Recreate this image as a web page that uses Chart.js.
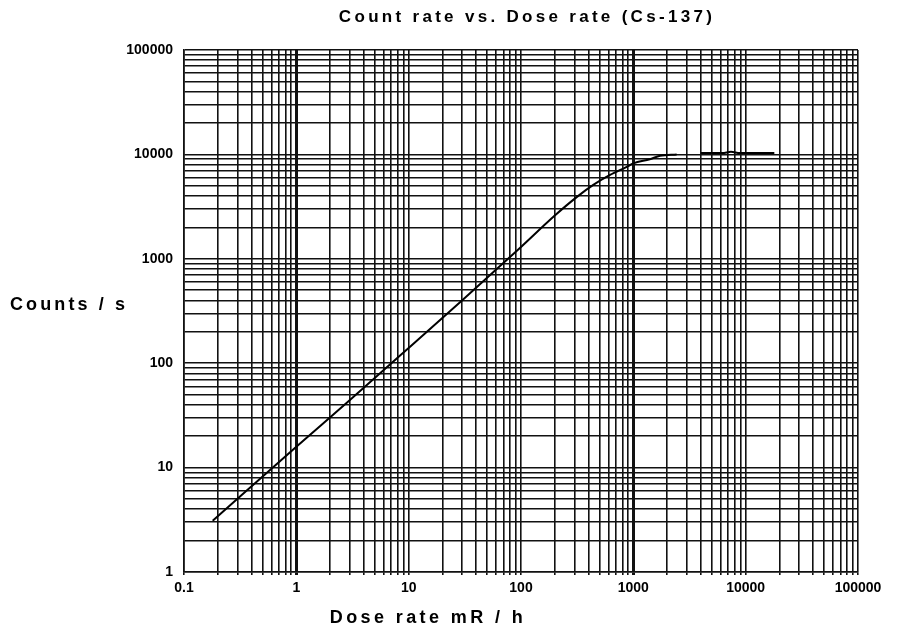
<!DOCTYPE html>
<html>
<head>
<meta charset="utf-8">
<script src="https://cdn.jsdelivr.net/npm/chart.js@4.4.1/dist/chart.umd.min.js"></script>
<style>
  html, body { margin: 0; padding: 0; background: #fff; }
  #wrap { width: 901px; height: 629px; }
</style>
</head>
<body>
<div id="wrap"><canvas id="chart"></canvas></div>
<script>
// titles
const TITLE = "Count rate vs. Dose rate (Cs-137)";
const X_TITLE = "Dose rate mR / h";
const Y_TITLE = "Counts / s";

// decade labels of the log paper
const xTickLabels = ["0.1", "1", "10", "100", "1000", "10000", "100000"];
const yTickLabels = ["1", "10", "100", "1000", "10000", "100000"];
const thickX = [1, 1000];

// curve (null = gap in the drawn line)
const doseRate  = [0.18, 1,    3,    10,  30,  100,  200,  313,  440,  620,  873,  1000, 1400, 1730, 2430,  3000, 4000,  6200,  7400,  8900,  18000];
const countRate = [3.1,  15.8, 44.5, 140, 400, 1300, 2600, 3900, 5100, 6350, 7600, 8200, 9000, 9700, 10000, null, 10300, 10300, 10600, 10300, 10300];

const FONT = '"Liberation Sans", Arial, sans-serif';

function logTicks(labels) {
  const decades = labels.map(Number);
  const ticks = [];
  decades.forEach((d, i) => {
    if (i === decades.length - 1) {
      ticks.push({ value: d, major: true });
      return;
    }
    for (let m = 1; m < 10; m++) ticks.push({ value: d * m, major: m === 1 });
  });
  return ticks;
}

function labelFor(labels) {
  const decades = labels.map(Number);
  return (value) => {
    const i = decades.findIndex((d) => Math.abs(d - value) < d * 1e-6);
    return i >= 0 ? labels[i] : "";
  };
}

const isThick = (v) => thickX.some((t) => Math.abs(t - v) < t * 1e-6);

// titles are letter-spaced and the y title is horizontal, so they are drawn here
const captions = {
  id: "captions",
  afterDraw(chart) {
    const { ctx, chartArea: a } = chart;
    ctx.save();
    ctx.fillStyle = "#000";
    ctx.textBaseline = "middle";

    ctx.textAlign = "center";
    ctx.font = "bold 17px " + FONT;
    ctx.letterSpacing = "3.3px";
    ctx.fillText(TITLE, (a.left + a.right) / 2 + 6, a.top - 33);

    ctx.font = "bold 18px " + FONT;
    ctx.letterSpacing = "3.4px";
    ctx.fillText(X_TITLE, a.left + 244, a.bottom + 46);

    ctx.textAlign = "left";
    ctx.letterSpacing = "3.1px";
    ctx.fillText(Y_TITLE, 10, a.top + 255);
    ctx.restore();
  },
};

new Chart(document.getElementById("chart"), {
  type: "line",
  data: {
    datasets: [{
      data: doseRate.map((x, i) => ({ x, y: countRate[i] })),
      borderColor: "#000",
      borderWidth: 2,
      pointRadius: 0,
      cubicInterpolationMode: "monotone",
      spanGaps: false,
    }],
  },
  options: {
    responsive: true,
    maintainAspectRatio: false,
    animation: false,
    layout: { padding: { top: 50, right: 43, left: 0, bottom: 0 } },
    plugins: { legend: { display: false }, tooltip: { enabled: false } },
    scales: {
      x: {
        type: "logarithmic",
        min: 0.1,
        max: 100000,
        afterBuildTicks: (s) => { s.ticks = logTicks(xTickLabels); },
        afterFit: (s) => { s.height = 57; },
        ticks: {
          callback: labelFor(xTickLabels),
          autoSkip: false,
          maxRotation: 0,
          padding: 5,
          color: "#000",
          font: { family: FONT, size: 14, weight: "bold" },
        },
        grid: {
          color: "#111",
          lineWidth: (c) => (c.tick && isThick(c.tick.value) ? 3 : 1.6),
          tickLength: 3,
        },
        border: { color: "#111", width: 1.6 },
      },
      y: {
        type: "logarithmic",
        min: 1,
        max: 100000,
        afterBuildTicks: (s) => { s.ticks = logTicks(yTickLabels); },
        afterFit: (s) => { s.width = 184; },
        ticks: {
          callback: labelFor(yTickLabels),
          autoSkip: false,
          padding: 11,
          color: "#000",
          font: { family: FONT, size: 14, weight: "bold" },
        },
        grid: { color: "#111", lineWidth: 1.6, drawTicks: false },
        border: { color: "#111", width: 1.6 },
      },
    },
  },
  plugins: [captions],
});
</script>
</body>
</html>
